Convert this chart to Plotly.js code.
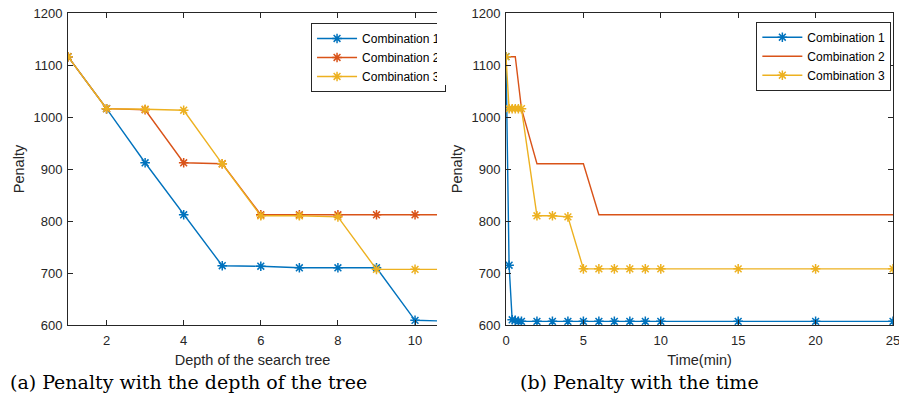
<!DOCTYPE html>
<html>
<head>
<meta charset="utf-8">
<script src="https://cdn.plot.ly/plotly-3.0.1.min.js"></script>
<style>html,body{margin:0;padding:0;background:#fff;}#chart{width:899px;height:402px;}</style>
</head>
<body>
<div id="chart"></div>
<script>
// ---- Data ----
var seriesNames = ["Combination 1", "Combination 2", "Combination 3"];

// (a) penalty vs depth of the search tree
var depth = [1, 2, 3, 4, 5, 6, 7, 8, 9, 10, 11];
var depthComb1 = [1116, 1016, 912, 812, 714, 713, 710, 710, 710, 609, 607];
var depthComb2 = [1116, 1016, 1014, 912, 910, 812, 812, 812, 812, 812, 812];
var depthComb3 = [1116, 1016, 1015, 1013, 910, 810, 810, 808, 707, 707, 707];

// (b) penalty vs time (min)
var time = [0, 0.2, 0.4, 0.6, 0.8, 1, 2, 3, 4, 5, 6, 7, 8, 9, 10, 15, 20, 25];
var timeComb1 = [1116, 715, 610, 609, 607, 607, 607, 607, 607, 607, 607, 607, 607, 607, 607, 607, 607, 607];
var timeComb3 = [1116, 1016, 1016, 1016, 1016, 1016, 810, 810, 808, 708, 708, 708, 708, 708, 708, 708, 708, 708];
var time2 = [0, 0.6, 1, 2, 5, 6, 25];
var timeComb2 = [1116, 1116, 1016, 910, 910, 812, 812];

var xTicksDepth = [2, 4, 6, 8, 10];
var xTicksTime = [0, 5, 10, 15, 20, 25];
var yTicks = [600, 700, 800, 900, 1000, 1100, 1200];

var captionA = "(a) Penalty with the depth of the tree";
var captionB = "(b) Penalty with the time";

// ---- Styling ----
var colors = ["#0072BD", "#D95319", "#EDB120"];
var axisColor = "#262626";
var font = "Liberation Sans, Arial, sans-serif";
var serif = "DejaVu Serif, serif";

function mk(color) {
  return {symbol: "asterisk-open", size: 8, color: color, line: {color: color, width: 1.5}};
}

var traces = [
  {x: depth, y: depthComb1, name: seriesNames[0], mode: "lines+markers", line: {color: colors[0], width: 1.4}, marker: mk(colors[0]), xaxis: "x", yaxis: "y", legend: "legend2"},
  {x: depth, y: depthComb2, name: seriesNames[1], mode: "lines+markers", line: {color: colors[1], width: 1.4}, marker: mk(colors[1]), xaxis: "x", yaxis: "y", legend: "legend2"},
  {x: depth, y: depthComb3, name: seriesNames[2], mode: "lines+markers", line: {color: colors[2], width: 1.4}, marker: mk(colors[2]), xaxis: "x", yaxis: "y", legend: "legend2"},
  {x: time, y: timeComb1, name: seriesNames[0], mode: "lines+markers", line: {color: colors[0], width: 1.4}, marker: mk(colors[0]), xaxis: "x2", yaxis: "y2", legend: "legend"},
  {x: time2, y: timeComb2, name: seriesNames[1], mode: "lines", line: {color: colors[1], width: 1.4}, xaxis: "x2", yaxis: "y2", legend: "legend"},
  {x: time, y: timeComb3, name: seriesNames[2], mode: "lines+markers", line: {color: colors[2], width: 1.4}, marker: mk(colors[2]), xaxis: "x2", yaxis: "y2", legend: "legend"}
];

var tickFont = {family: font, size: 13, color: axisColor};
var titleFont = {family: font, size: 14.5, color: axisColor};

function yAx(anchor, mirror) {
  return {
    anchor: anchor, range: [600, 1200], tickvals: yTicks, ticks: "inside", ticklen: 5,
    tickcolor: axisColor, showline: true, linecolor: axisColor, linewidth: 1,
    mirror: mirror, showgrid: false, zeroline: false, tickfont: tickFont,
    ticklabelstandoff: 2,
    title: {text: "Penalty", font: titleFont, standoff: 5}
  };
}
function xAx(domain, anchor, range, ticks, title) {
  return {
    domain: domain, anchor: anchor, range: range, tickvals: ticks,
    ticks: "inside", ticklen: 5, tickcolor: axisColor, showline: true,
    linecolor: axisColor, linewidth: 1, mirror: "ticks", showgrid: false,
    zeroline: false, tickfont: tickFont, ticklabelstandoff: 3,
    ticklabeloverflow: "allow",
    title: {text: title, font: titleFont, standoff: 8}
  };
}

var legendCommon = {
  bgcolor: "#ffffff", bordercolor: axisColor, borderwidth: 1,
  font: {family: font, size: 12, color: "#000"}, yanchor: "top",
  tracegroupgap: 0, itemwidth: 40
};

var layout = {
  width: 899, height: 402,
  margin: {l: 68, r: 6, t: 13, b: 77},
  paper_bgcolor: "#ffffff", plot_bgcolor: "#ffffff",
  showlegend: true,
  xaxis: xAx([0, 0.4473], "y", [1, 10.57], xTicksDepth, "Depth of the search tree"),
  yaxis: yAx("x", false),
  xaxis2: xAx([0.5309, 1], "y2", [0, 25], xTicksTime, "Time(min)"),
  yaxis2: yAx("x2", "ticks"),
  legend: Object.assign({}, legendCommon, {x: 0.998, xanchor: "right", y: 0.972}),
  legend2: Object.assign({}, legendCommon, {x: 0.2946, xanchor: "left", y: 0.968}),
  annotations: [
    {text: " ", xref: "paper", yref: "paper", x: 0.4473, xanchor: "left", y: 0.88, yanchor: "middle",
     width: 16, height: 70, bgcolor: "#ffffff", showarrow: false, borderpad: 0, borderwidth: 0},
    {text: captionA, xref: "paper", yref: "paper", x: -0.0727, xanchor: "left", y: -0.1827, yanchor: "middle",
     showarrow: false, font: {family: serif, size: 19, color: "#000"}},
    {text: captionB, xref: "paper", yref: "paper", x: 0.5455, xanchor: "left", y: -0.1827, yanchor: "middle",
     showarrow: false, font: {family: serif, size: 19, color: "#000"}}
  ]
};

Plotly.newPlot("chart", traces, layout, {staticPlot: true, displayModeBar: false});
</script>
</body>
</html>
